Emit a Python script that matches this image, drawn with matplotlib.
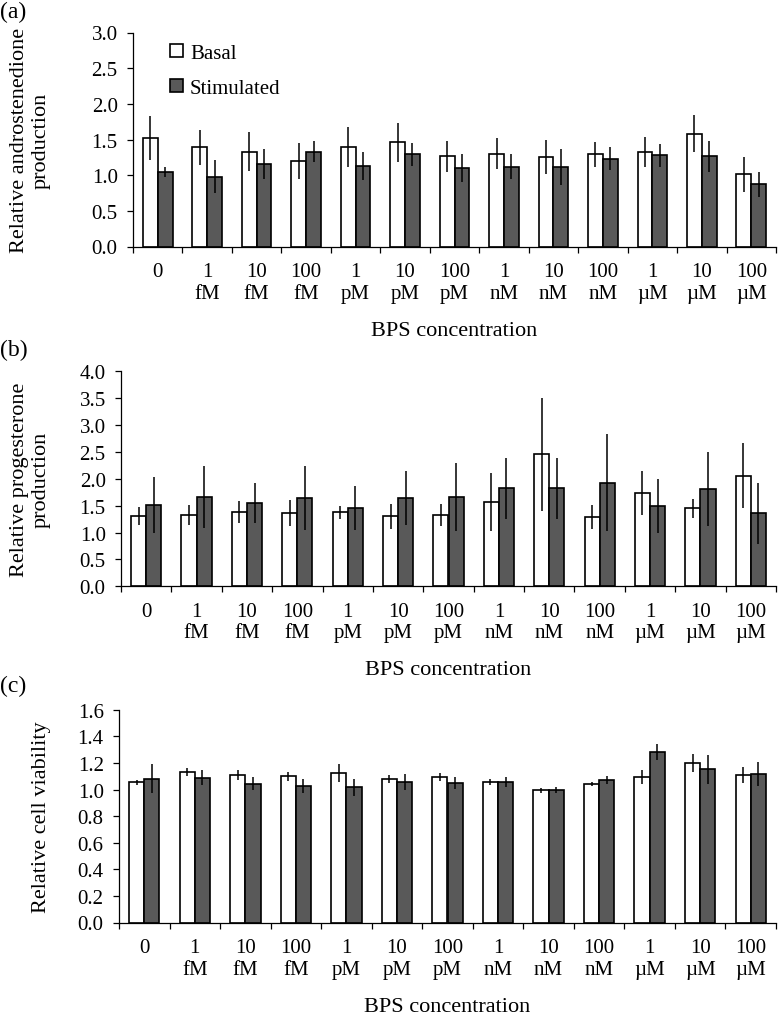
import numpy as np
import matplotlib
matplotlib.use('Agg')
from matplotlib import pyplot as plt

plt.rcParams['font.family'] = ['Liberation Serif', 'DejaVu Serif']

# x categories (BPS concentration)
conc_labels = ['0', '1\nfM', '10\nfM', '100\nfM', '1\npM', '10\npM', '100\npM',
               '1\nnM', '10\nnM', '100\nnM', '1\nµM', '10\nµM', '100\nµM']

# (a) androstenedione
andro_basal = [1.52, 1.39, 1.33, 1.20, 1.40, 1.46, 1.265, 1.30, 1.25, 1.29, 1.32, 1.58, 1.01]
andro_basal_err = [0.31, 0.25, 0.27, 0.25, 0.28, 0.27, 0.22, 0.22, 0.24, 0.18, 0.21, 0.26, 0.24]
andro_stim = [1.05, 0.98, 1.15, 1.33, 1.13, 1.29, 1.10, 1.12, 1.11, 1.23, 1.28, 1.265, 0.87]
andro_stim_err = [0.07, 0.23, 0.21, 0.15, 0.20, 0.16, 0.20, 0.18, 0.25, 0.16, 0.16, 0.22, 0.18]

# (b) progesterone
prog_basal = [1.31, 1.33, 1.38, 1.36, 1.38, 1.30, 1.33, 1.56, 2.46, 1.29, 1.74, 1.45, 2.06]
prog_basal_err = [0.165, 0.19, 0.20, 0.24, 0.12, 0.23, 0.20, 0.54, 1.05, 0.22, 0.41, 0.17, 0.60]
prog_stim = [1.51, 1.66, 1.55, 1.64, 1.45, 1.64, 1.66, 1.82, 1.82, 1.93, 1.49, 1.81, 1.36]
prog_stim_err = [0.52, 0.58, 0.38, 0.60, 0.41, 0.50, 0.64, 0.56, 0.56, 0.91, 0.50, 0.69, 0.57]

# (c) cell viability
via_basal = [1.055, 1.13, 1.11, 1.10, 1.125, 1.08, 1.094, 1.056, 0.994, 1.039, 1.094, 1.199, 1.111]
via_basal_err = [0.02, 0.03, 0.04, 0.035, 0.065, 0.03, 0.03, 0.025, 0.02, 0.015, 0.055, 0.065, 0.06]
via_stim = [1.08, 1.09, 1.045, 1.026, 1.016, 1.059, 1.046, 1.056, 0.996, 1.069, 1.284, 1.151, 1.119]
via_stim_err = [0.11, 0.055, 0.05, 0.05, 0.065, 0.06, 0.045, 0.035, 0.025, 0.03, 0.06, 0.11, 0.09]

W, H = 779, 1020
fig = plt.figure(figsize=(W / 100, H / 100), dpi=100)

GRAY = '#595959'
FS = 15


def panel(rect, basal, basal_err, stim, stim_err, ymax, ystep, ylabel, ylab_x, tag, tag_y):
    ax = fig.add_axes(rect)
    x = np.arange(len(conc_labels))
    w = 0.30
    ax.bar(x - w / 2, basal, w, color='white', edgecolor='black', linewidth=1.2,
           label='Basal', zorder=2)
    ax.bar(x + w / 2, stim, w, color=GRAY, edgecolor='black', linewidth=1.2,
           label='Stimulated', zorder=2)
    ax.errorbar(x - w / 2, basal, yerr=basal_err, fmt='none', ecolor='black',
                elinewidth=1.1, capsize=0, zorder=3)
    ax.errorbar(x + w / 2, stim, yerr=stim_err, fmt='none', ecolor='black',
                elinewidth=1.1, capsize=0, zorder=3)

    ax.set_xlim(-0.5, 12.5)
    ax.set_ylim(0, ymax)
    yt = np.arange(0, ymax + 1e-9, ystep)
    ax.set_yticks(yt)
    ax.set_yticklabels(['%.1f' % v for v in yt], fontsize=FS)

    # ticks between groups, labels at group centres
    ax.set_xticks(np.arange(-0.5, 13, 1))
    ax.set_xticklabels([])
    ax.set_xticks(x, minor=True)
    ax.set_xticklabels(conc_labels, minor=True, fontsize=FS, linespacing=1.2)
    ax.tick_params(axis='x', which='major', direction='out', length=4, width=0.9)
    ax.tick_params(axis='x', which='minor', length=0, pad=11)
    ax.tick_params(axis='y', direction='out', length=4, width=0.9, pad=7)

    for s in ['top', 'right']:
        ax.spines[s].set_visible(False)
    for s in ['left', 'bottom']:
        ax.spines[s].set_linewidth(0.9)

    ax.set_xlabel('BPS concentration', fontsize=16, labelpad=13)
    ax.set_ylabel(ylabel, fontsize=16, va='center', linespacing=1.2)
    ax.yaxis.set_label_coords(ylab_x, 0.5)
    fig.text(0.0, tag_y, tag, fontsize=17, va='top', ha='left')
    return ax


ax_a = panel([133 / W, 1 - 247.5 / H, 643 / W, 214 / H],
             andro_basal, andro_basal_err, andro_stim, andro_stim_err,
             3.0, 0.5, 'Relative androstenedione\nproduction', -0.160, '(a)', 1 - 2 / H)
ax_a.legend(loc='upper left', bbox_to_anchor=(0.045, 0.985), frameon=False, fontsize=FS,
            handlelength=0.6, handleheight=0.6, handletextpad=0.35, labelspacing=0.75,
            borderaxespad=0.0)

panel([121 / W, 1 - 587.3 / H, 655 / W, 215 / H],
      prog_basal, prog_basal_err, prog_stim, prog_stim_err,
      4.0, 0.5, 'Relative progesterone\nproduction', -0.138, '(b)', 1 - 340 / H)

panel([119 / W, 1 - 923.5 / H, 657 / W, 212.8 / H],
      via_basal, via_basal_err, via_stim, via_stim_err,
      1.6, 0.2, 'Relative cell viability', -0.118, '(c)', 1 - 676 / H)

fig.savefig('out.png', dpi=100)
